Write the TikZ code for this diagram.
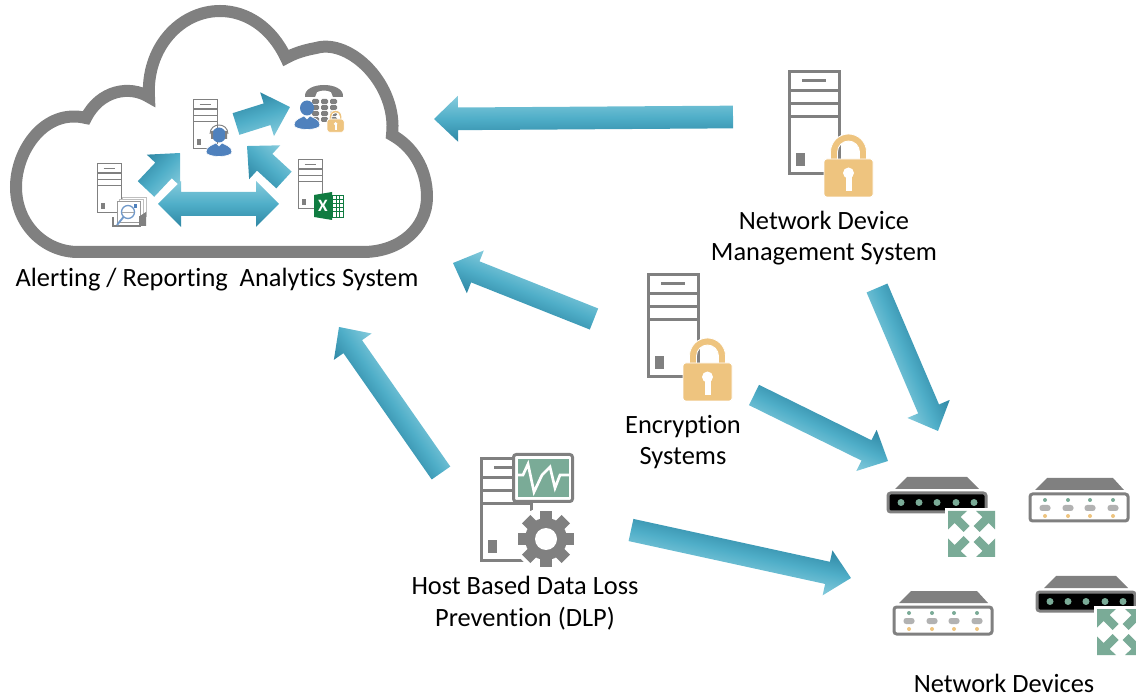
\documentclass[tikz,border=0pt]{standalone}
\usepackage{fontspec}
\setmainfont[Ligatures=NoCommon]{Carlito}
\usetikzlibrary{calc}

\definecolor{framegray}{HTML}{808080}
\definecolor{arrowdark}{HTML}{2F87A4}
\definecolor{arrowmid}{HTML}{4FAEC8}
\definecolor{arrowlight}{HTML}{86CBDC}
\definecolor{lockgold}{HTML}{EEC47F}
\definecolor{portgreen}{HTML}{7AAB97}
\definecolor{userblue}{HTML}{4F81BD}
\definecolor{xlgreen}{HTML}{107C41}

\tikzset{
  bluearrow/.style={shading=axis,top color=arrowdark,bottom color=arrowlight,middle color=arrowmid},
  label text/.style={align=center,font=\fontsize{19.8}{23.6}\selectfont,inner sep=0pt},
  pics/serverbox/.style={code={
    \draw[framegray,fill=white] (1.5,1.5) rectangle (51.5,103.5);
    \draw[framegray] (1.5,21) -- (51.5,21) (1.5,34) -- (51.5,34) (1.5,47) -- (51.5,47) (14,11) -- (38,11);
    \fill[framegray] (8,83) rectangle (17,96);
  }},
  pics/lockicon/.style={code={
    \path[fill=lockgold,draw=white,line width=.6pt] (6.5,2) -- (6.5,-7) arc[start angle=180,end angle=360,radius=18]
      -- (42.5,2) -- (35.5,2) -- (35.5,-7) arc[start angle=360,end angle=180,radius=11] -- (13.5,2) -- cycle;
    \path[fill=lockgold,draw=white,line width=.6pt,rounded corners=2pt] (0,0) rectangle (49,38);
    \fill[white] (24.5,14) circle[radius=5.5];
    \fill[white] (21.5,14) rectangle (27.5,32);
  }},
  pics/personicon/.style={code={
    \path[fill=userblue,draw=white,line width=.5pt] (-13,17) .. controls (-13,11) and (-6,10) .. (-3,8) -- (0,11) -- (3,8)
      .. controls (6,10) and (13,11) .. (13,17) .. controls (13,23) and (-13,23) .. (-13,17) -- cycle;
    \fill[userblue] (0,0) ellipse[x radius=7,y radius=7.5];
  }},
  pics/routerdark/.style={code={
    \fill[framegray] (8,-3) -- (20,-15) -- (80,-15) -- (92,-3) -- cycle;
    \draw[framegray,fill=black,line width=2.25pt,rounded corners=2pt] (1,1) rectangle (99,20);
    \foreach \px in {14,32,50,69,87}
      \fill[portgreen] (\px,10.5) circle[radius=3.5];
  }},
  pics/routerlight/.style={code={
    \fill[framegray] (6,-3) -- (18,-15) -- (84,-15) -- (95,-3) -- cycle;
    \draw[framegray,fill=white,line width=2.25pt,rounded corners=2pt] (1,1) rectangle (99,28);
    \foreach \px in {16,39,61,84} {
      \fill[portgreen] (\px,7) circle[radius=2];
      \fill[black!30,rounded corners=2pt] (\px-5.5,12) rectangle (\px+5.5,18);
      \fill[lockgold] (\px,23) circle[radius=2];
    }
  }},
  pics/expandicon/.style={code={
    \fill[white] (-3,-3) rectangle (50,49);
    \foreach \sx/\sy in {1/1,-1/1,1/-1,-1/-1} {
      \begin{scope}[shift={(23.5,23)},xscale=\sx,yscale=\sy]
        \fill[portgreen] (-23.5,-23) -- (-4.5,-23) -- (-11,-17) -- (-2,-8) -- (-8,-2) -- (-17,-11) -- (-23.5,-4.5) -- cycle;
      \end{scope}
    }
  }},
}

% block arrow from a tail to a tip
\newcommand{\blockarrow}[2]{%
  \pgfpointdiff{\pgfpointanchor{#1}{center}}{\pgfpointanchor{#2}{center}}%
  \pgfgetlastxy{\ax}{\ay}%
  \pgfmathsetmacro\arrang{atan2(\ay,\ax)}%
  \pgfmathsetmacro\arrlen{veclen(\ax,\ay)}%
  \path[bluearrow,transform canvas={shift={(#1)},rotate=\arrang}]
    (0pt,8.5pt) -- (\arrlen pt-18pt,8.5pt) -- (\arrlen pt-18pt,17.25pt) -- (\arrlen pt,0pt)
    -- (\arrlen pt-18pt,-17.25pt) -- (\arrlen pt-18pt,-8.5pt) -- (0pt,-8.5pt) -- cycle;
}

\begin{document}
\begin{tikzpicture}[x=.75pt,y=-.75pt,line width=2.25pt]
  \path[use as bounding box,clip] (0,0) rectangle (1136,698);

  % cloud
  \draw[framegray,line width=9pt,miter limit=10] (78,252) -- (363,252)
    .. controls (400,252) and (427,228) .. (427,197)
    .. controls (427,168) and (412,146) .. (392,135)
    .. controls (398,85) and (350,38) .. (316,48)
    .. controls (305,50) and (295,53) .. (286,58)
    .. controls (272,28) and (247,11) .. (220,11)
    .. controls (180,11) and (146,48) .. (149,97)
    .. controls (130,85) and (100,90) .. (86,118)
    .. controls (45,108) and (16,150) .. (16,187)
    .. controls (16,225) and (45,252) .. (78,252) -- cycle;

  % servers
  \pic[scale=.48,line width=1.1pt] (srv-search) at (97,163) {serverbox};
  \pic[scale=.48,line width=1.1pt] (srv-agent) at (193,99) {serverbox};
  \pic[scale=.48,line width=1.1pt] (srv-excel) at (298,159) {serverbox};
  \pic (srv-mgmt) at (788,70) {serverbox};
  \pic (srv-crypt) at (647,273) {serverbox};
  \pic (srv-dlp) at (480,457) {serverbox};
  \pic (lock-mgmt) at (824,159) {lockicon};
  \pic (lock-crypt) at (683,363) {lockicon};

  % search icon
  \draw[black!25,fill=white,line width=.6pt] (122,197) rectangle (146,216);
  \draw[black!25,fill=white,line width=.6pt] (119,199) rectangle (143,218);
  \draw[black!40,fill=white,line width=.6pt] (117,201) rectangle (140,222);
  \fill[userblue] (134,204) rectangle (137,208);
  \fill[framegray] (140,216) -- (146,212) -- (146,226) -- (140,226) -- cycle;
  \draw[framegray,line width=.8pt] (140,216) -- (140,226) -- (113,226) -- (113,217);
  \draw[userblue!80,line width=1pt] (128,212) circle[radius=6.5];
  \draw[black!35,line width=.6pt] (122,212) -- (134,212);
  \draw[userblue!80,line width=1.4pt] (123.5,217) -- (117,225);

  % agent
  \pic (user-agent) at (219,135) {personicon};
  \draw[black!50,line width=.7pt] (210,134) .. controls (210,122) and (228,122) .. (228,134);
  \fill[framegray] (211,131) rectangle (213,139) (225,131) rectangle (227,139);

  % phone
  \fill[framegray] (305,97) .. controls (303,81) and (345,81) .. (343,97) -- (333,97) -- (331,92)
    .. controls (326,90) and (322,90) .. (317,92) -- (315,97) -- cycle;
  \foreach \cx in {312,321,330}
    \foreach \cy in {99,105,111,117}
      \fill[framegray,rounded corners=1pt] (\cx,\cy) rectangle (\cx+7,\cy+5);
  \pic (user-phone) at (307,108) {personicon};
  \pic[scale=.35] (lock-phone) at (327,119) {lockicon};

  % excel icon
  \draw[xlgreen,fill=white,line width=.6pt] (332,195) rectangle (343,217);
  \draw[xlgreen,line width=.5pt] (336,195) -- (336,217) (339.5,195) -- (339.5,217);
  \foreach \gy in {199,203,207,211}
    \draw[xlgreen,line width=.4pt] (332,\gy) -- (343,\gy);
  \fill[xlgreen] (314,195) -- (332,192) -- (332,220) -- (314,217) -- cycle;
  \node[text=white,font=\bfseries\fontsize{13}{13}\selectfont,inner sep=0pt] (xl-mark) at (323,206) {X};

  % monitor and gear
  \draw[framegray,fill=white,rounded corners=2pt] (513.5,454.5) rectangle (572.5,501.5);
  \fill[portgreen] (518,459) rectangle (569,497);
  \draw[white,line width=2pt] (518,475) -- (523,475) -- (528,464) -- (534,492) -- (542,475) -- (550,467)
    -- (555,488) -- (560,475) -- (569,475);
  \fill[white] (546,539) circle[radius=32];
  \foreach \ga in {0,45,...,315}
    \draw[framegray,line width=9pt] (546,539) -- ++(\ga:28);
  \fill[framegray] (546,539) circle[radius=21];
  \fill[white] (546,539) circle[radius=11];

  % routers
  \pic (dev-a) at (887,492) {routerdark};
  \pic (dev-b) at (1029,493) {routerlight};
  \pic (dev-c) at (893,606) {routerlight};
  \pic (dev-d) at (1036,591) {routerdark};
  \pic (exp-a) at (948,511) {expandicon};
  \pic (exp-d) at (1097,609) {expandicon};

  % labels
  \node[label text] (lab-cloud) at (217,280) {Alerting / Reporting\ \ Analytics System};
  \node[label text] (lab-mgmt) at (824,238) {Network Device\\Management System};
  \node[label text] (lab-crypt) at (683,442) {Encryption\\Systems};
  \node[label text] (lab-dlp) at (525,603) {Host Based Data Loss\\Prevention (DLP)};
  \node[label text] (lab-dev) at (1004,683) {Network Devices};

  % arrow ends
  \coordinate (tail-mgmt) at (733,117);  \coordinate (tip-mgmt) at (434,119);
  \coordinate (tail-crypt) at (594,319); \coordinate (tip-crypt) at (453,263);
  \coordinate (tail-dlp) at (441,473);   \coordinate (tip-dlp) at (339,327);
  \coordinate (tail-mdev) at (877,288);  \coordinate (tip-mdev) at (938,431);
  \coordinate (tail-cdev) at (754,395);  \coordinate (tip-cdev) at (888,461);
  \coordinate (tail-ddev) at (631,530);  \coordinate (tip-ddev) at (851,578);
  \coordinate (tail-agent) at (236,124); \coordinate (tip-agent) at (290,107);
  \coordinate (tail-excel) at (284,180); \coordinate (tip-excel) at (247,146);
  \coordinate (tail-search) at (146,189); \coordinate (tip-search) at (180,153);
  \coordinate (share-l) at (158,204);    \coordinate (share-r) at (279,204);

  \foreach \arr in {mgmt,crypt,dlp,mdev,cdev,ddev,agent,excel,search} {
    \blockarrow{tail-\arr}{tip-\arr}
  }

  \path[shading=axis,top color=arrowlight,bottom color=arrowdark,middle color=arrowmid]
    (share-l) -- ++(23,-23) -- ++(0,11) -- ++(75,0) -- ++(0,-11) -- (share-r)
    -- ++(-23,23) -- ++(0,-11) -- ++(-75,0) -- ++(0,11) -- cycle;
\end{tikzpicture}
\end{document}
